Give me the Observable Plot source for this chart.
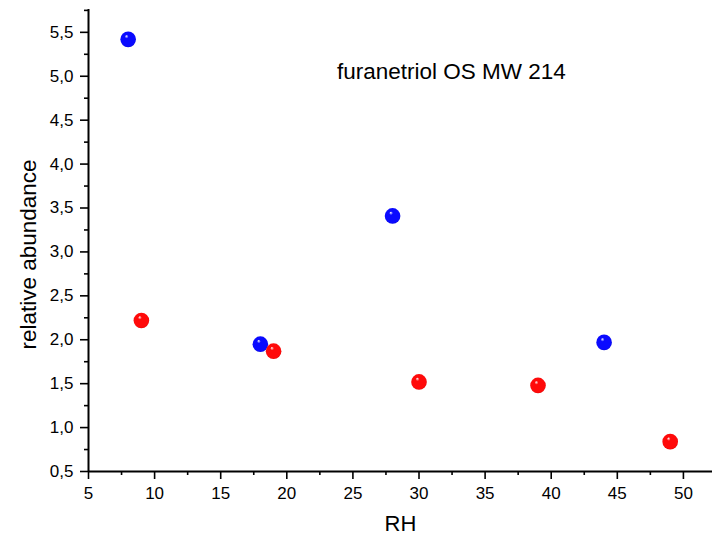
<!DOCTYPE html>
<html>
<head>
<meta charset="utf-8">
<script src="https://cdn.jsdelivr.net/npm/d3@7"></script>
<script src="https://cdn.jsdelivr.net/npm/@observablehq/plot@0.6"></script>
<style>
  body { margin: 0; background: #fff; }
  #chart svg { display: block; font-family: "Liberation Sans", Arial, sans-serif; }
</style>
</head>
<body>
<div id="chart"></div>
<script>
// Data
const blueRH = [8, 18, 28, 44];
const blueAbundance = [5.42, 1.95, 3.41, 1.97];
const redRH = [9, 19, 30, 39, 49];
const redAbundance = [2.22, 1.87, 1.52, 1.48, 0.84];
const xMajorTicks = [5, 10, 15, 20, 25, 30, 35, 40, 45, 50];
const yMajorTicks = [0.5, 1.0, 1.5, 2.0, 2.5, 3.0, 3.5, 4.0, 4.5, 5.0, 5.5];
const annotation = [{x: 23.8, y: 5.05, text: "furanetriol OS MW 214"}];

const blue = blueRH.map((x, i) => ({x, y: blueAbundance[i]}));
const red = redRH.map((x, i) => ({x, y: redAbundance[i]}));
const xMinor = d3.range(5, 52.2, 2.5).filter(v => !xMajorTicks.includes(v));
const yMinor = d3.range(0.5, 5.76, 0.25).map(v => +v.toFixed(2)).filter(v => !yMajorTicks.includes(v));
const fmt = d => d3.format(".1f")(d).replace(".", ",");

const plot = Plot.plot({
  width: 714,
  height: 549,
  marginLeft: 88,
  marginRight: 2,
  marginTop: 9,
  marginBottom: 78,
  style: {fontFamily: "Liberation Sans, Arial, sans-serif", color: "#000"},
  x: {domain: [5, 52.2]},
  y: {domain: [0.5, 5.76]},
  marks: [
    Plot.axisX({ticks: xMinor, tickSize: 4, tickFormat: () => "", strokeWidth: 1.6, label: null}),
    Plot.axisX({ticks: xMajorTicks, tickSize: 8, tickPadding: 7, fontSize: 17, strokeWidth: 1.6, tickFormat: d => String(d), label: null}),
    Plot.axisY({ticks: yMinor, tickSize: 4, tickFormat: () => "", strokeWidth: 1.6, label: null}),
    Plot.axisY({ticks: yMajorTicks, tickSize: 8, tickPadding: 7, fontSize: 17, strokeWidth: 1.6, tickFormat: fmt, label: null}),
    Plot.ruleY([0.5], {strokeWidth: 2}),
    Plot.ruleX([5], {strokeWidth: 2}),
    Plot.text(["RH"], {frameAnchor: "bottom", dy: 59, fontSize: 22}),
    Plot.text(["relative abundance"], {frameAnchor: "left", textAnchor: "middle", dx: -60, dy: 14, rotate: -90, fontSize: 22.5}),
    Plot.text(annotation, {x: "x", y: "y", text: "text", textAnchor: "start", fontSize: 22.5}),
    Plot.dot(blue, {x: "x", y: "y", r: 7.8, fill: "url(#gBlue)", stroke: "none"}),
    Plot.dot(red, {x: "x", y: "y", r: 7.8, fill: "url(#gRed)", stroke: "none"})
  ]
});

const defs = d3.select(plot).insert("defs", ":first-child");
function grad(id, base, dark) {
  const g = defs.append("radialGradient").attr("id", id)
    .attr("cx", "50%").attr("cy", "50%").attr("r", "55%")
    .attr("fx", "38%").attr("fy", "28%");
  g.append("stop").attr("offset", "0%").attr("stop-color", "#ffffff");
  g.append("stop").attr("offset", "22%").attr("stop-color", base);
  g.append("stop").attr("offset", "85%").attr("stop-color", base);
  g.append("stop").attr("offset", "100%").attr("stop-color", dark);
}
grad("gBlue", "#0a0aff", "#0000c8");
grad("gRed", "#ff0a0a", "#d00000");

document.getElementById("chart").appendChild(plot);
</script>
</body>
</html>
